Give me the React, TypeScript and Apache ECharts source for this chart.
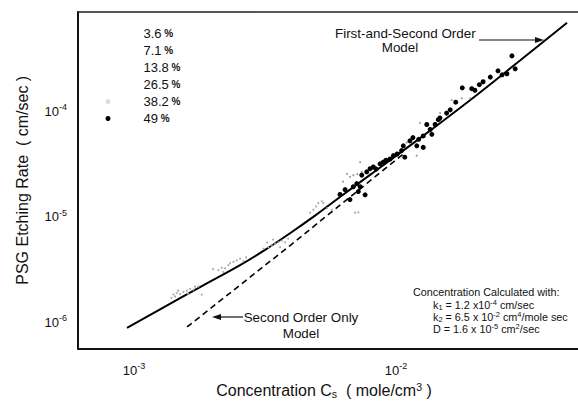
import React, { useEffect, useRef } from "react";
import * as echarts from "echarts";

const FONT = '"Liberation Sans", Arial, sans-serif';

// axis extents (mole/cm3 and cm/sec)
const xMin = 6.11e-4;
const xMax = 0.0495;
const yMin = 5.26e-7;
const yMax = 8.16e-4;

const seriesNames = ["3.6", "7.1", "13.8", "26.5", "38.2", "49"];

// [concentration, etch rate]
const pts36: [number, number][] = [
  [1.39e-3, 1.59e-6], [1.413e-3, 1.71e-6], [1.455e-3, 1.77e-6], [1.498e-3, 1.73e-6],
  [1.543e-3, 1.81e-6], [1.589e-3, 1.86e-6], [1.636e-3, 1.94e-6], [1.684e-3, 1.9e-6],
  [1.759e-3, 2.04e-6], [1.813e-3, 1.71e-6], [1.472e-3, 1.86e-6], [1.607e-3, 1.75e-6],
  [1.709e-3, 2.03e-6], [1.434e-3, 1.64e-6],
];
const pts71: [number, number][] = [
  [2.098e-3, 2.92e-6], [2.161e-3, 3.07e-6], [2.225e-3, 3.03e-6], [2.291e-3, 3.25e-6],
  [2.393e-3, 3.49e-6], [2.466e-3, 3.61e-6], [2.539e-3, 3.75e-6], [2.613e-3, 3.54e-6],
  [2.192e-3, 2.81e-6], [2.325e-3, 3.39e-6], [2.676e-3, 3.86e-6], [2.002e-3, 2.98e-6],
];
const pts138: [number, number][] = [
  [3.115e-3, 4.65e-6], [3.255e-3, 4.81e-6], [3.354e-3, 4.99e-6], [3.453e-3, 5.17e-6],
  [3.555e-3, 5.35e-6], [3.662e-3, 5.55e-6], [3.77e-3, 5.35e-6], [3.608e-3, 4.81e-6],
  [3.218e-3, 5.32e-6], [3.393e-3, 5.67e-6], [3.871e-3, 5.79e-6],
];
const pts265: [number, number][] = [
  [4.697e-3, 1.02e-5], [4.835e-3, 1.09e-5], [5.052e-3, 1.26e-5], [5.205e-3, 1.31e-5],
  [5.279e-3, 1.26e-5], [5.453e-3, 1.13e-5], [5.684e-3, 1.09e-5], [6.974e-3, 1.02e-5],
  [7.18e-3, 1.03e-5], [4.952e-3, 1.17e-5],
];
const pts382: [number, number][] = [
  [6.674e-3, 2.23e-5], [6.871e-3, 2.32e-5], [7.116e-3, 2.37e-5], [7.398e-3, 2.49e-5],
  [7.288e-3, 3.08e-5], [1.235e-2, 7.25e-5], [1.199e-2, 3.55e-5], [1.098e-2, 4.72e-5],
  [1.472e-2, 8.98e-5], [1.631e-2, 1.19e-4], [1.782e-2, 1.24e-4], [1.916e-2, 1.24e-4],
  [6.276e-3, 2.01e-5], [6.501e-3, 2.38e-5],
];
const pts49: [number, number][] = [
  [0.0277, 3.13e-4], [0.0245, 2.26e-4], [0.0229, 1.97e-4], [0.0215, 1.78e-4],
  [0.0208, 1.67e-4], [0.01945, 1.53e-4], [0.0179, 1.56e-4], [0.0265, 2.12e-4],
  [0.0285, 2.36e-4], [0.0161, 9.64e-5], [0.0156, 8.98e-5], [0.0145, 7.78e-5],
  [0.0141, 7.0e-5], [0.0135, 6.28e-5], [0.0131, 7.0e-5], [0.0137, 5.65e-5],
  [0.0127, 5.46e-5], [0.0122, 5.07e-5], [0.0116, 5.26e-5], [0.0113, 4.9e-5],
  [0.0127, 4.25e-5], [0.01066, 4.4e-5], [0.0105, 3.96e-5], [0.0108, 3.43e-5],
  [0.0101, 3.68e-5], [0.00949, 3.3e-5], [0.00894, 3.08e-5], [0.00869, 2.97e-5],
  [0.00819, 2.77e-5], [0.00796, 2.67e-5], [0.00773, 2.49e-5], [0.0074, 2.32e-5],
  [0.00708, 1.93e-5], [0.00687, 1.8e-5], [0.00729, 1.8e-5], [0.00762, 1.51e-5],
  [0.00718, 1.62e-5], [0.00639, 1.69e-5], [0.00611, 1.52e-5], [0.00667, 1.36e-5],
  [0.0147, 8.07e-5], [0.012, 4.4e-5], [0.00977, 3.55e-5], [0.02, 1.48e-4],
  [0.0254, 2.07e-4], [0.0169, 1.14e-4], [0.00916, 3.21e-5], [0.00839, 2.65e-5],
];

const firstSecondModel: [number, number][] = [
  [9.4e-4, 8.25e-7], [1.257e-3, 1.24e-6], [1.786e-3, 2.01e-6], [2.539e-3, 3.25e-6],
  [3.162e-3, 4.53e-6], [3.939e-3, 6.52e-6], [4.907e-3, 9.58e-6], [6.113e-3, 1.44e-5],
  [7.958e-3, 2.33e-5], [1.235e-2, 5.2e-5], [1.916e-2, 1.19e-4], [2.973e-2, 2.83e-4],
  [4.496e-2, 6.45e-4],
];
const secondOrderModel: [number, number][] = [
  [1.593e-3, 8.43e-7], [3.94e-3, 4.99e-6], [1.063e-2, 3.66e-5],
];

const seriesData = [pts36, pts71, pts138, pts265, pts382, pts49];
const seriesColors = ["#ababab", "#ababab", "#ababab", "#ababab", "#9e9e9e", "#000000"];
const seriesSizes = [2, 2, 2, 2, 2, 5];
const legendColors = ["rgba(0,0,0,0)", "rgba(0,0,0,0)", "rgba(0,0,0,0)", "rgba(0,0,0,0)", "#dcdcdc", "#000000"];

const powLabel = (v: number) => {
  const l = Math.log10(v);
  const r = Math.round(l);
  return Math.abs(l - r) < 1e-6 ? `{b|10}{sup|${r}}` : "";
};
const labelRich = {
  b: { fontSize: 13, fontFamily: FONT, color: "#111" },
  sup: { fontSize: 9, fontFamily: FONT, color: "#111", padding: [0, 0, 8, 0] },
};

export default function App() {
  const ref = useRef<HTMLDivElement>(null);
  useEffect(() => {
    if (!ref.current) return;
    const chart = echarts.init(ref.current, null, { renderer: "svg" });
    const txt = (x: number, y: number, text: string, size: number, align = "left", rich?: any) => ({
      type: "text",
      x,
      y,
      style: {
        text,
        fill: "#111",
        font: `${size}px ${FONT}`,
        textAlign: align,
        textVerticalAlign: "middle",
        rich,
      },
    });
    const fRich = {
      sub: { fontSize: 7.5, fontFamily: FONT, fill: "#111", color: "#111", padding: [4, 0, 0, 0] },
      sup: { fontSize: 7.5, fontFamily: FONT, fill: "#111", color: "#111", padding: [0, 0, 5, 0] },
    };
    chart.setOption({
      animation: false,
      backgroundColor: "#fff",
      grid: { left: 78, top: 12, right: 0, bottom: 49 },
      legend: {
        orient: "vertical",
        left: 105.5,
        top: 25,
        padding: 0,
        itemGap: 0,
        itemWidth: 5,
        itemHeight: 5,
        selectedMode: false,
        icon: "circle",
        data: seriesNames.map((n, i) => ({ name: n, itemStyle: { color: legendColors[i] } })),
        formatter: (name: string) => `${name}{p| %}`,
        textStyle: {
          fontSize: 13,
          fontFamily: FONT,
          color: "#111",
          lineHeight: 17,
          padding: [0, 0, 0, 28],
          rich: { p: { fontSize: 10, fontWeight: "bold", fontFamily: FONT, color: "#111", lineHeight: 17 } },
        },
      },
      xAxis: [
        {
          type: "log",
          min: xMin,
          max: xMax,
          axisLine: { lineStyle: { color: "#111", width: 2 } },
          axisTick: { show: false },
          splitLine: { show: false },
          axisLabel: { formatter: powLabel, rich: labelRich, margin: 13, showMinLabel: false, showMaxLabel: false },
          name: "Concentration C{sub|s}  ( mole/cm{sup|3} )",
          nameLocation: "middle",
          nameGap: 30,
          nameTextStyle: {
            fontSize: 16,
            fontFamily: FONT,
            color: "#111",
            padding: [0, 8, 0, 0],
            rich: {
              sub: { fontSize: 10.5, fontFamily: FONT, color: "#111", padding: [6, 0, 0, 0] },
              sup: { fontSize: 10.5, fontFamily: FONT, color: "#111", padding: [0, 0, 7, 0] },
            },
          },
        },
        {
          type: "log",
          position: "top",
          min: xMin,
          max: xMax,
          axisLine: { lineStyle: { color: "#222", width: 1.5 } },
          axisTick: { show: false },
          axisLabel: { show: false },
          splitLine: { show: false },
        },
      ],
      yAxis: {
        type: "log",
        min: yMin,
        max: yMax,
        axisLine: { lineStyle: { color: "#111", width: 2 } },
        axisTick: { show: false },
        splitLine: { show: false },
        axisLabel: {
          formatter: powLabel,
          rich: labelRich,
          margin: 11,
          padding: [6, 0, 0, 0],
          showMinLabel: false,
          showMaxLabel: false,
        },
        name: "PSG Etching Rate  ( cm/sec )",
        nameLocation: "middle",
        nameRotate: 90,
        nameGap: 48,
        nameTextStyle: { fontSize: 16, fontFamily: FONT, color: "#111" },
      },
      series: [
        {
          type: "line",
          name: "First-and-Second Order Model",
          data: firstSecondModel,
          showSymbol: false,
          smooth: 0.4,
          lineStyle: { color: "#000", width: 2 },
          z: 2,
        },
        {
          type: "line",
          name: "Second Order Only Model",
          data: secondOrderModel,
          showSymbol: false,
          lineStyle: { color: "#000", width: 1.6, type: [6, 4] },
          z: 2,
        },
        ...seriesNames.map((n, i) => ({
          type: "scatter",
          name: n,
          data: seriesData[i],
          symbol: "circle",
          symbolSize: seriesSizes[i],
          itemStyle: { color: seriesColors[i], opacity: 1 },
          z: 3,
        })),
      ],
      graphic: [
        txt(335, 33, "First-and-Second Order", 13.4),
        txt(400, 47, "Model", 13.4, "center"),
        { type: "line", shape: { x1: 479, y1: 40, x2: 537, y2: 40 }, style: { stroke: "#111", lineWidth: 1.2 } },
        { type: "polygon", shape: { points: [[544, 40], [535, 37], [535, 43]] }, style: { fill: "#111" } },
        txt(301, 317, "Second Order Only", 13.4, "center"),
        txt(301, 333, "Model", 13.4, "center"),
        { type: "line", shape: { x1: 243, y1: 317, x2: 219, y2: 317 }, style: { stroke: "#111", lineWidth: 1.2 } },
        { type: "polygon", shape: { points: [[212, 317], [221, 314], [221, 320]] }, style: { fill: "#111" } },
        txt(413, 292, "Concentration Calculated with:", 10.8),
        txt(433, 305, "k{sub|1} = 1.2 x10{sup|-4} cm/sec", 10.8, "left", fRich),
        txt(433, 317, "k{sub|2} = 6.5 x 10{sup|-2} cm{sup|4}/mole sec", 10.8, "left", fRich),
        txt(433, 329, "D = 1.6 x 10{sup|-5} cm{sup|2}/sec", 10.8, "left", fRich),
      ],
    });
    return () => chart.dispose();
  }, []);
  return <div ref={ref} style={{ position: "fixed", left: 0, top: 0, width: 578, height: 404 }} />;
}
